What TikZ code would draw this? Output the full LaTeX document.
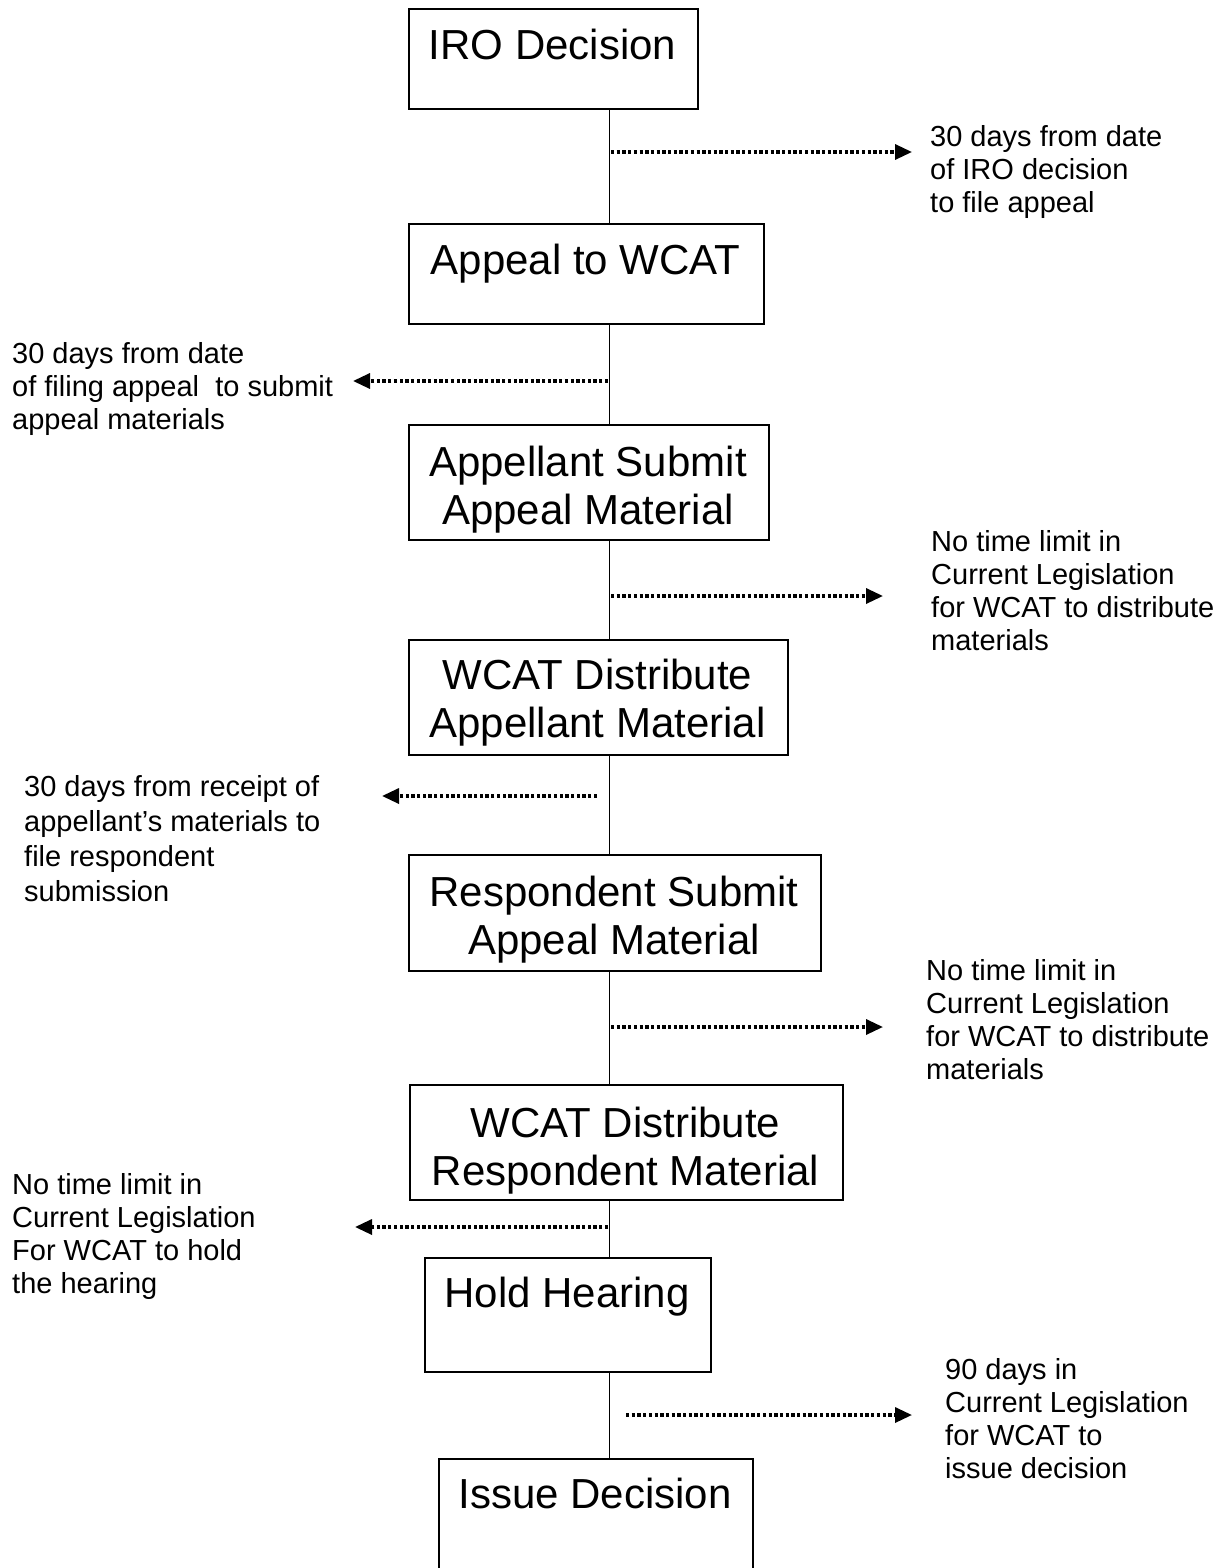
\documentclass[tikz,border=0pt]{standalone}
\usepackage{fontspec}
\setmainfont{Liberation Sans}
\usetikzlibrary{arrows.meta}
\begin{document}
\begin{tikzpicture}[x=1pt,y=-1pt,
  boxshape/.style={draw, line width=1.8pt, rectangle, inner sep=0pt, anchor=north west},
  boxtext/.style={anchor=north, inner sep=0pt, align=center, font=\fontsize{42}{48}\selectfont},
  note/.style={anchor=north west, inner sep=0pt, align=left, font=\fontsize{29}{33}\selectfont},
  spine/.style={line width=1.8pt},
  dotarrow/.style={line width=3.3pt, dash pattern=on 3.3pt off 2.4pt, -{Triangle[length=17pt,width=15pt]}}
]
\useasboundingbox (0,0) rectangle (1228,1568);
\clip (0,0) rectangle (1228,1568);
\fill[white] (0,0) rectangle (1228,1568);

% boxes
\node[boxshape, minimum width=289pt, minimum height=100pt] (b1) at (408,8) {};
\node[boxshape, minimum width=355pt, minimum height=100pt] (b2) at (408,223) {};
\node[boxshape, minimum width=360pt, minimum height=115pt] (b3) at (408,424) {};
\node[boxshape, minimum width=379pt, minimum height=115pt] (b4) at (408,639) {};
\node[boxshape, minimum width=412pt, minimum height=116pt] (b5) at (408,854) {};
\node[boxshape, minimum width=433pt, minimum height=115pt] (b6) at (409,1084) {};
\node[boxshape, minimum width=286pt, minimum height=114pt] (b7) at (424,1257) {};
\node[boxshape, minimum width=314pt, minimum height=200pt] (b8) at (438,1458) {};

% box texts
\node[boxtext] (t1) at (552.5,29) {IRO Decision};
\node[boxtext] (t2) at (585.5,244) {Appeal to WCAT};
\node[boxtext] (t3) at (588,446) {Appellant Submit\\Appeal Material};
\node[boxtext] (t4) at (597.5,659) {WCAT Distribute\\Appellant Material};
\node[boxtext] (t5) at (614,876) {Respondent Submit\\Appeal Material};
\node[boxtext] (t6) at (625.5,1107) {WCAT Distribute\\Respondent Material};
\node[boxtext] (t7) at (567,1277) {Hold Hearing};
\node[boxtext] (t8) at (595,1478) {Issue Decision};

% spine
\coordinate (sp) at (609.5,0);
\draw[spine] (b1.south -| sp) -- (b2.north -| sp);
\draw[spine] (b2.south -| sp) -- (b3.north -| sp);
\draw[spine] (b3.south -| sp) -- (b4.north -| sp);
\draw[spine] (b4.south -| sp) -- (b5.north -| sp);
\draw[spine] (b5.south -| sp) -- (b6.north -| sp);
\draw[spine] (b6.south -| sp) -- (b7.north -| sp);
\draw[spine] (b7.south -| sp) -- (b8.north -| sp);

% dotted arrows
\coordinate (a1s) at (611,152);  \coordinate (a1e) at (912,152);
\coordinate (a2s) at (608,381);  \coordinate (a2e) at (353,381);
\coordinate (a3s) at (611,596);  \coordinate (a3e) at (883,596);
\coordinate (a4s) at (597,796);  \coordinate (a4e) at (382,796);
\coordinate (a5s) at (611,1027); \coordinate (a5e) at (883,1027);
\coordinate (a6s) at (608,1227); \coordinate (a6e) at (355,1227);
\coordinate (a7s) at (626,1415); \coordinate (a7e) at (912,1415);
\draw[dotarrow] (a1s) -- (a1e);
\draw[dotarrow] (a2s) -- (a2e);
\draw[dotarrow] (a3s) -- (a3e);
\draw[dotarrow] (a4s) -- (a4e);
\draw[dotarrow] (a5s) -- (a5e);
\draw[dotarrow] (a6s) -- (a6e);
\draw[dotarrow] (a7s) -- (a7e);

% notes
\node[note] (n1) at (930,125) {30 days from date\\of IRO decision\\to file appeal};
\node[note] (n2) at (12,342) {30 days from date\\of filing appeal~ to submit\\appeal materials};
\node[note] (n3) at (931,530) {No time limit in\\Current Legislation\\for WCAT to distribute\\materials};
\node[note, font=\fontsize{29}{35}\selectfont] (n4) at (24,775) {30 days from receipt of\\appellant’s materials to\\file respondent\\submission};
\node[note] (n5) at (926,959) {No time limit in\\Current Legislation\\for WCAT to distribute\\materials};
\node[note] (n6) at (12,1173) {No time limit in\\Current Legislation\\For WCAT to hold\\the hearing};
\node[note] (n7) at (945,1358) {90 days in\\Current Legislation\\for WCAT to\\issue decision};
\end{tikzpicture}
\end{document}
